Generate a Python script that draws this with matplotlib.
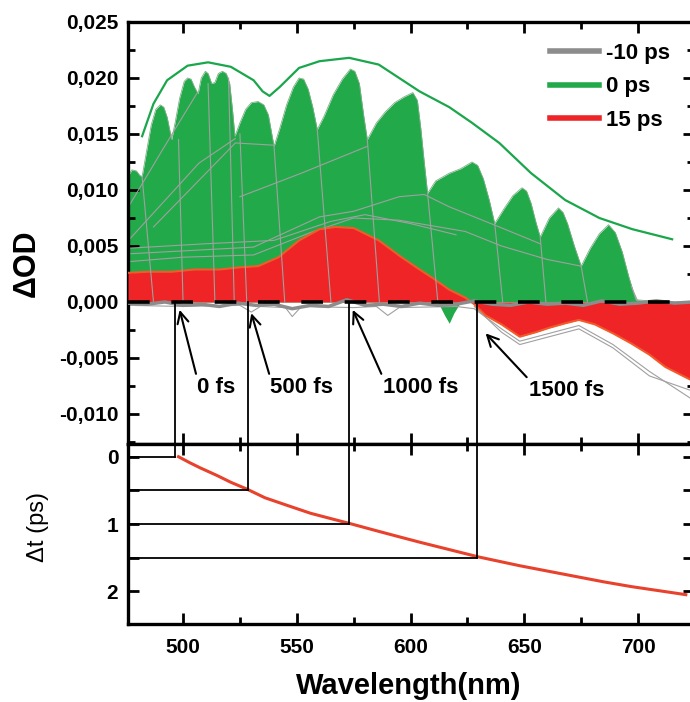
import numpy as np
import matplotlib.pyplot as plt
from matplotlib.ticker import MultipleLocator, FixedLocator
from matplotlib.lines import Line2D

plt.rcParams['font.family'] = ['Liberation Sans', 'DejaVu Sans']
plt.rcParams['font.weight'] = 'bold'

# ---- data ----
# 0 ps (filled green, chirped spectra stacked)
wl_green = [475.8, 477.5, 479.5, 481, 482, 484, 486, 488, 490, 491.5, 493, 495, 496.5, 498.5,
            500.5, 502, 503.5, 505, 506.6, 508, 509.8, 511, 512.6, 514, 515.5, 517.3, 519,
            520.5, 521.8, 522.8, 525, 527.5, 530, 533, 535.5, 537.5, 539, 540, 542.5, 545.5,
            548.5, 551, 553, 555, 557, 559, 562, 566, 570, 573.5, 575.5, 577.5, 579.5, 581,
            585, 589, 593, 597, 601, 603, 604.5, 606, 607.5, 611, 617, 622, 627, 629.5, 632,
            634.6, 637, 641, 645, 649, 651, 653, 655, 657, 661, 665, 667, 669, 672, 675, 679,
            683, 687, 690, 693, 696, 699, 705, 712, 724.6]
od_green = [0.0112, 0.0118, 0.0117, 0.0113, 0.0112, 0.0135, 0.0158, 0.0172, 0.0176, 0.0174,
            0.0165, 0.0145, 0.0160, 0.0182, 0.0197, 0.0200, 0.0199, 0.0192, 0.0186, 0.0200,
            0.0206, 0.0204, 0.0195, 0.0196, 0.0204, 0.0206, 0.0204, 0.0195, 0.0170, 0.0148,
            0.0160, 0.0172, 0.0178, 0.0179, 0.0176, 0.0167, 0.0150, 0.0139, 0.0155, 0.0176,
            0.0192, 0.0200, 0.0199, 0.0190, 0.0174, 0.0154, 0.0166, 0.0185, 0.0199, 0.0208,
            0.0206, 0.0195, 0.0165, 0.0145, 0.0160, 0.0170, 0.0178, 0.0183, 0.0187, 0.0180,
            0.0155, 0.0125, 0.0097, 0.0108, 0.0115, 0.0119, 0.0125, 0.0122, 0.0110, 0.0091,
            0.0070, 0.0083, 0.0095, 0.0102, 0.0099, 0.0088, 0.0072, 0.0058, 0.0075, 0.0084,
            0.0080, 0.0070, 0.0050, 0.0032, 0.0048, 0.0061, 0.0069, 0.0062, 0.0045, 0.0022,
            0.0002, 0.0001, 0.0000, 0.0000]
# small green bits below zero
wl_gneg1 = [612, 615, 617, 619, 622]
od_gneg1 = [0.0, -0.0012, -0.0019, -0.0010, 0.0]
wl_gneg2 = [703, 706, 708, 710, 713]
od_gneg2 = [0.0, -0.0008, -0.0012, -0.0007, 0.0]

# 0 ps envelope line
wl_env = [482, 487, 493, 502, 511, 521, 531, 535, 538, 542.5, 551, 560, 573, 586, 595, 604,
          617, 627, 639, 653, 668, 683, 697.5, 715]
od_env = [0.0148, 0.0177, 0.0198, 0.0211, 0.0214, 0.0210, 0.0198, 0.0188, 0.0184, 0.0192,
          0.0209, 0.0215, 0.0218, 0.0212, 0.0200, 0.0188, 0.0174, 0.0160, 0.0142, 0.0115,
          0.0091, 0.0075, 0.0065, 0.0056]

# 15 ps (filled red)
wl_red = [475.8, 484, 495, 505, 516, 525, 533, 542, 551, 560, 567, 575, 581, 586, 596, 604,
          610, 617, 624, 628, 633, 640, 648, 655, 661, 668, 674, 681, 689, 697, 705, 712, 724.6]
od_red = [0.0026, 0.0027, 0.0027, 0.0029, 0.0029, 0.0031, 0.0032, 0.0040, 0.0055, 0.0065,
          0.0067, 0.0066, 0.0060, 0.0055, 0.0040, 0.0029, 0.0021, 0.0011, 0.0004, -0.0002,
          -0.0012, -0.0020, -0.0031, -0.0027, -0.0023, -0.0019, -0.0016, -0.0020, -0.0028,
          -0.0037, -0.0047, -0.0058, -0.0071]

# -10 ps trace (around zero)
wl_m10 = [476, 484, 492, 500, 508, 516, 524, 532, 540, 548, 556, 564, 572, 580, 588, 596,
          604, 612, 620, 628, 636, 644, 652, 660, 668, 676, 684, 692, 700, 708, 716, 724]
od_m10 = [-0.0001, -0.0002, 0.0000, -0.0003, -0.0002, -0.0004, -0.0001, -0.0003, -0.0002,
          -0.0006, -0.0003, -0.0004, 0.0002, -0.0003, -0.0002, -0.0004, -0.0001, -0.0003,
          -0.0002, 0.0001, -0.0002, -0.0003, 0.0000, -0.0002, -0.0001, -0.0003, 0.0001,
          -0.0002, -0.0001, 0.0001, -0.0001, 0.0000]

# intermediate delay spectra (thin grey)
gray_traces = [
    ([476, 491, 506], [0.0085, 0.0136, 0.0186]),
    ([476, 507, 523], [0.0055, 0.0124, 0.0146]),
    ([487, 523, 540], [0.0067, 0.0142, 0.0140]),
    ([525, 552, 581], [0.0094, 0.0115, 0.0139]),
    ([476, 531, 560, 575, 595, 606, 617, 639, 657],
     [0.0043, 0.0049, 0.0076, 0.0081, 0.0094, 0.0096, 0.0085, 0.0067, 0.0052]),
    ([476, 500, 531, 556, 575, 595, 624, 640, 660, 675],
     [0.0036, 0.0040, 0.0042, 0.0062, 0.0075, 0.0073, 0.0063, 0.0050, 0.0038, 0.0032]),
    ([476, 510, 540, 565, 580, 600, 620],
     [0.0048, 0.0052, 0.0055, 0.0072, 0.0078, 0.0070, 0.0060]),
    ([476, 500, 525, 530, 534, 545, 548, 552, 575, 585, 590, 595, 620, 628, 640, 648, 661,
      674, 689, 705, 724.6],
     [-0.0003, -0.0004, -0.0003, -0.0009, -0.0004, -0.0005, -0.0013, -0.0004, -0.0005,
      -0.0004, -0.0012, -0.0005, -0.0004, -0.0006, -0.0024, -0.0035, -0.0028, -0.0021,
      -0.0038, -0.0062, -0.0088]),
    ([628, 640, 648, 661, 674, 689, 705, 724.6],
     [-0.0004, -0.0027, -0.0038, -0.0031, -0.0024, -0.0041, -0.0066, -0.0080]),
]
# steep edges of the chirped spectra
drop_wl_top = [482, 498, 511, 520, 525, 540, 559, 581, 607.5, 637, 657, 675, 697]
drop_od_top = [0.0112, 0.0145, 0.0195, 0.0200, 0.0150, 0.0139, 0.0154, 0.0145, 0.0097,
               0.0070, 0.0058, 0.0032, 0.0014]
drop_wl_bot = [487, 500, 514, 522.5, 528, 544.7, 565, 586.3, 612, 640.5, 659.5, 677.8, 700]

# chirp curve (lower panel)
wl_chirp = [498, 503, 507.5, 515, 521, 528, 536, 545.5, 556, 565, 573, 585, 595, 604, 617,
            630, 648, 668, 685, 697, 721]
dt_chirp = [0.0, 0.09, 0.165, 0.28, 0.38, 0.48, 0.61, 0.72, 0.84, 0.92, 0.99, 1.10, 1.19,
            1.27, 1.38, 1.49, 1.62, 1.75, 1.86, 1.93, 2.05]

# marked delays
mark_labels = ['0 fs', '500 fs', '1000 fs', '1500 fs']
mark_wl = [496.5, 528.4, 572.8, 629.4]
mark_dt = [0.0, 0.5, 1.0, 1.5]
tip_wl = [498.5, 530, 574.6, 633]
tip_od = [-0.0007, -0.0010, -0.0007, -0.0028]
text_wl = [506, 538.2, 587.7, 652.2]
text_od = [-0.0076, -0.0076, -0.0076, -0.0079]

od_ticks = [-0.010, -0.005, 0.000, 0.005, 0.010, 0.015, 0.020, 0.025]
od_ticklabels = ['-0,010', '-0,005', '0,000', '0,005', '0,010', '0,015', '0,020', '0,025']
wl_ticks = [500, 550, 600, 650, 700]
dt_ticks = [0, 1, 2]

GREEN = '#22aa4a'
GREEN_LINE = '#1aa64a'
RED = '#ee2426'
GREY = '#8c8c8c'
XLIM = (475.8, 724.6)

fig = plt.figure(figsize=(6.9, 7.02), dpi=100)
ax = fig.add_axes([128/690, 1-444/702, 566/690, 422/702])
ax2 = fig.add_axes([128/690, 1-624/702, 566/690, 180/702])

# top panel
ax.fill_between(wl_green, 0, od_green, color=GREEN, lw=0, zorder=1)
ax.fill_between(wl_gneg1, od_gneg1, 0, color=GREEN, lw=0, zorder=1)
ax.fill_between(wl_gneg2, od_gneg2, 0, color=GREEN, lw=0, zorder=1)
ax.plot(wl_green, od_green, color='#7fae86', lw=0.6, zorder=1)
for w, o in gray_traces:
    ax.plot(w, o, color='#a0a0a0', lw=0.8, zorder=2)
for i in range(len(drop_wl_top)):
    ax.plot([drop_wl_top[i], drop_wl_bot[i]], [drop_od_top[i], 0], color='#a0a0a0', lw=0.8, zorder=4)
ax.fill_between(wl_red, 0, od_red, color=RED, lw=0, zorder=3)
ax.plot(wl_red, od_red, color='#f25a2a', lw=1.5, zorder=3)
ax.plot(wl_m10, od_m10, color=GREY, lw=2.5, zorder=5)
ax.plot(wl_env, od_env, color=GREEN_LINE, lw=1.6, zorder=5)
ax.axhline(0, color='black', lw=2.6, ls=(0, (6, 6)), zorder=6)

for i in range(len(mark_wl)):
    ax.plot([mark_wl[i], mark_wl[i]], [0, -0.02], color='black', lw=1.3, zorder=6)
    ax.annotate(mark_labels[i], xy=(tip_wl[i], tip_od[i]), xytext=(text_wl[i], text_od[i]),
                ha='left', va='center', fontsize=16, fontweight='bold', zorder=7,
                arrowprops=dict(arrowstyle='->', lw=1.5, color='black', mutation_scale=20,
                                relpos=(0.0, 1.0), shrinkA=0, shrinkB=0))

ax.set_xlim(*XLIM)
ax.set_ylim(-0.01268, 0.025)
ax.yaxis.set_major_locator(FixedLocator(od_ticks))
ax.set_yticklabels(od_ticklabels)
ax.yaxis.set_minor_locator(MultipleLocator(0.0025))
ax.xaxis.set_major_locator(FixedLocator(wl_ticks))
ax.xaxis.set_minor_locator(MultipleLocator(25))
ax.tick_params(axis='x', labelbottom=False)

handles = [Line2D([], [], color=GREY, lw=4),
           Line2D([], [], color=GREEN, lw=4),
           Line2D([], [], color=RED, lw=4)]
ax.legend(handles, ['-10 ps', '0 ps', '15 ps'], loc='upper right', bbox_to_anchor=(0.957, 0.95),
          frameon=False, fontsize=16, handlelength=2.2, handletextpad=0.3, labelspacing=0.55,
          borderpad=0, borderaxespad=0)

# bottom panel
ax2.plot(wl_chirp, dt_chirp, color='#e8412c', lw=2.2, zorder=3)
for i in range(len(mark_wl)):
    ax2.plot([mark_wl[i], mark_wl[i]], [-1, mark_dt[i]], color='black', lw=1.3, zorder=4)
    ax2.plot([XLIM[0], mark_wl[i]], [mark_dt[i], mark_dt[i]], color='black', lw=1.3, zorder=4)
ax2.set_xlim(*XLIM)
ax2.set_ylim(2.486, -0.189)
ax2.yaxis.set_major_locator(FixedLocator(dt_ticks))
ax2.yaxis.set_minor_locator(MultipleLocator(0.5))
ax2.xaxis.set_major_locator(FixedLocator(wl_ticks))
ax2.xaxis.set_minor_locator(MultipleLocator(25))

for a in (ax, ax2):
    for s in a.spines.values():
        s.set_linewidth(2.4)
    a.tick_params(which='both', direction='in', top=True, right=True, width=2,
                  labelsize=15, pad=7)
    a.tick_params(which='major', length=8)
    a.tick_params(which='minor', length=5)
ax2.tick_params(axis='y', which='minor', length=8)
ax2.tick_params(axis='x', pad=10)

fig.text(27/690, 1-263/702, 'ΔOD', rotation=90, ha='center', va='center',
         fontsize=22, fontweight='bold')
fig.text(38/690, 1-527/702, 'Δt (ps)', rotation=90, ha='center', va='center',
         fontsize=17, fontweight='normal')
fig.text(409/690, 1-686/702, 'Wavelength(nm)', ha='center', va='center',
         fontsize=21, fontweight='bold')

fig.savefig('out.png', dpi=100)
